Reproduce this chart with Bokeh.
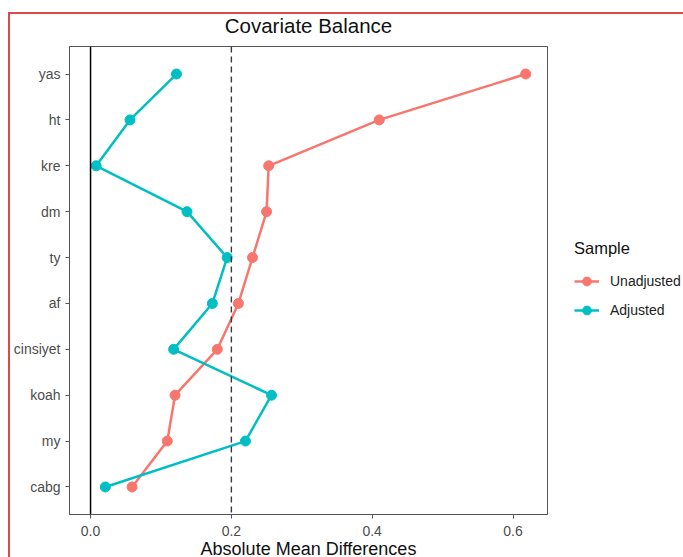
from bokeh.plotting import figure
from bokeh.layouts import row
from bokeh.models import FactorRange, Range1d, Span, Legend, LegendItem, NumeralTickFormatter, FixedTicker, InlineStyleSheet
from bokeh.embed import file_html
from bokeh.resources import INLINE

covariates = ["yas", "ht", "kre", "dm", "ty", "af", "cinsiyet", "koah", "my", "cabg"]
unadjusted = [0.618, 0.410, 0.253, 0.250, 0.230, 0.210, 0.180, 0.120, 0.109, 0.059]
adjusted = [0.122, 0.056, 0.008, 0.137, 0.194, 0.173, 0.118, 0.257, 0.220, 0.021]
x_ticks = [0.0, 0.2, 0.4, 0.6]
threshold = 0.2

RED = "#F8766D"
TEAL = "#00BFC4"
FONT = "Liberation Sans"

frame_css = InlineStyleSheet(css="""
:host { position: relative; }
:host::after {
  content: '';
  position: absolute;
  left: 8px; top: 12px; right: -20px; bottom: -20px;
  border-left: 2px solid #E04848;
  border-top: 2px solid #E04848;
  pointer-events: none;
  z-index: 10;
}
""")

MAIN_W = 552
H = 562
factors = list(reversed(covariates))
p = figure(width=MAIN_W, height=H, output_backend="svg", toolbar_location=None,
           y_range=FactorRange(factors=factors, range_padding=0.1, range_padding_units="absolute"),
           x_range=Range1d(-0.0299, 0.649),
           min_border_left=69, min_border_right=MAIN_W - 547, min_border_top=46, min_border_bottom=H - 514)

p.title.text = "Covariate Balance"
p.title.align = "center"
p.title.standoff = 20
p.title.text_font = FONT
p.title.text_font_size = "20.5px"
p.title.text_font_style = "normal"
p.title.text_color = "#111111"

p.xgrid.visible = False
p.ygrid.visible = False
p.outline_line_color = "#555555"
p.outline_line_width = 1

for ax in (p.xaxis[0], p.yaxis[0]):
    ax.axis_line_color = "#555555"
    ax.major_tick_line_color = "#555555"
    ax.minor_tick_line_color = None
    ax.major_tick_in = 0
    ax.major_tick_out = 4
    ax.major_label_text_font = FONT
    ax.major_label_text_font_size = "14px"
    ax.major_label_text_color = "#4D4D4D"

p.xaxis.ticker = FixedTicker(ticks=x_ticks)
p.xaxis.formatter = NumeralTickFormatter(format="0.0")
p.xaxis.axis_label = "Absolute Mean Differences"
p.xaxis.axis_label_text_font = FONT
p.xaxis.axis_label_text_font_size = "18px"
p.xaxis.axis_label_text_font_style = "normal"
p.xaxis.axis_label_text_color = "#111111"
p.xaxis.axis_label_standoff = 0
p.xaxis.major_label_standoff = 7
p.yaxis.major_label_standoff = 5

p.add_layout(Span(location=0, dimension="height", line_color="black", line_width=1.5))
p.add_layout(Span(location=threshold, dimension="height", line_color="#3a3a3a", line_width=1.4, line_dash="6 4"))

p.line(unadjusted, covariates, line_color=RED, line_width=2.5)
p.scatter(unadjusted, covariates, size=10, fill_color=RED, line_color=RED)
p.line(adjusted, covariates, line_color=TEAL, line_width=2.5)
p.scatter(adjusted, covariates, size=10, fill_color=TEAL, line_color=TEAL)

# legend panel (its glyphs lie outside its own visible range; only the legend shows)
q = figure(width=683 - MAIN_W, height=H, output_backend="svg", toolbar_location=None,
           x_range=Range1d(10, 11), y_range=Range1d(10, 11),
           min_border_left=0, min_border_right=0, min_border_top=0, min_border_bottom=0)
q.axis.visible = False
q.xgrid.visible = False
q.ygrid.visible = False
q.outline_line_color = None

k1 = q.line(unadjusted, adjusted, line_color=RED, line_width=2.5)
k1s = q.scatter(unadjusted, adjusted, size=10, fill_color=RED, line_color=RED)
k2 = q.line(adjusted, unadjusted, line_color=TEAL, line_width=2.5)
k2s = q.scatter(adjusted, unadjusted, size=10, fill_color=TEAL, line_color=TEAL)

legend = Legend(items=[LegendItem(label="Unadjusted", renderers=[k1, k1s]),
                       LegendItem(label="Adjusted", renderers=[k2, k2s])],
                location=(22, 188 + (H - 557)), margin=0, title="Sample",
                title_text_font=FONT, title_text_font_size="16.5px", title_text_color="#111111",
                title_text_font_style="normal", title_standoff=12,
                label_text_font=FONT, label_text_font_size="14px", label_text_color="#222222",
                background_fill_alpha=0, border_line_color=None,
                glyph_width=25, glyph_height=22, spacing=7, padding=3, label_standoff=11)
q.add_layout(legend, "center")

layout = row(p, q, spacing=0, stylesheets=[frame_css])

open("out.html", "w").write(file_html(layout, INLINE))
